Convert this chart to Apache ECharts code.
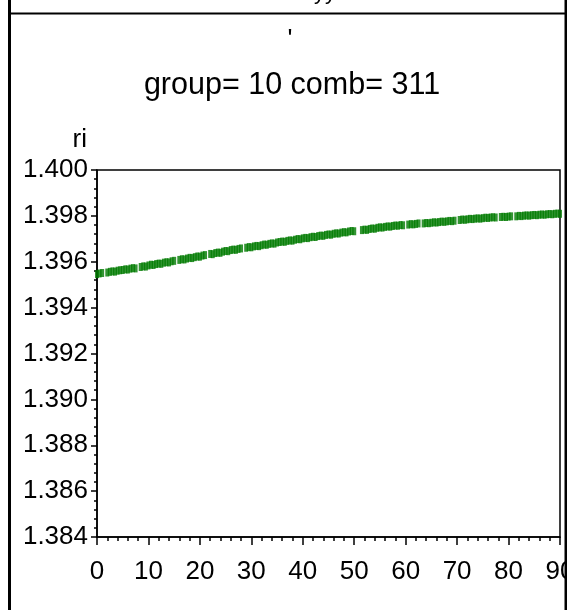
<!DOCTYPE html>
<html>
<head>
<meta charset="utf-8">
<script src="https://cdn.jsdelivr.net/npm/echarts@6/dist/echarts.min.js"></script>
<style>
  html, body { margin: 0; padding: 0; background: #fff; }
  #chart { width: 569px; height: 610px; }
</style>
</head>
<body>
<div id="chart"></div>
<script>
// Measurements of ri along x for group 10, comb 311
const xVals = [
  0, 0.5, 1, 2, 2.5, 3, 3.5, 4, 4.5, 5, 5.5, 6, 6.5, 7, 7.5,
  8.5, 9, 9.5, 10, 10.5, 11, 11.5, 12, 12.5, 13, 13.5, 14, 14.5, 15,
  16, 16.5, 17, 17.5, 18, 18.5, 19, 19.5, 20, 20.5, 21,
  22, 22.5, 23, 23.5, 24, 24.5, 25, 25.5, 26, 26.5, 27, 27.5, 28,
  29, 29.5, 30, 30.5, 31, 31.5, 32, 32.5, 33, 33.5, 34, 34.5,
  35, 35.5, 36, 36.5, 37, 37.5, 38, 38.5, 39, 39.5, 40, 40.5, 41, 41.5, 42, 42.5,
  43, 43.5, 44, 44.5, 45, 45.5, 46, 46.5, 47, 47.5, 48, 48.5, 49, 49.5, 50,
  51.5, 52, 52.5, 53, 53.5, 54, 54.5, 55, 55.5, 56, 56.5, 57, 57.5, 58, 58.5, 59, 59.5,
  60.5, 61, 61.5, 62, 62.5,
  63.5, 64, 64.5, 65, 65.5, 66, 66.5, 67, 67.5, 68, 68.5, 69, 69.5,
  70.5, 71, 71.5, 72, 72.5, 73, 73.5, 74, 74.5, 75, 75.5, 76, 76.5, 77, 77.5,
  78.5, 79, 79.5, 80, 80.5,
  81.5, 82, 82.5, 83, 83.5, 84, 84.5, 85, 85.5, 86, 86.5, 87, 87.5, 88, 88.5, 89, 89.5, 90
];
const riVals = [
  1.39546, 1.39549, 1.39551, 1.39553, 1.39556, 1.39558, 1.39557, 1.39561, 1.39563, 1.39564, 1.39567, 1.39566, 1.39570, 1.39572, 1.39571,
  1.39577, 1.39580, 1.39579, 1.39584, 1.39587, 1.39586, 1.39590, 1.39592, 1.39591, 1.39596, 1.39598, 1.39597, 1.39602, 1.39604,
  1.39608, 1.39611, 1.39610, 1.39614, 1.39617, 1.39616, 1.39620, 1.39623, 1.39622, 1.39627, 1.39629,
  1.39634, 1.39633, 1.39638, 1.39640, 1.39639, 1.39644, 1.39647, 1.39646, 1.39651, 1.39653, 1.39652, 1.39656, 1.39658,
  1.39661, 1.39664, 1.39663, 1.39667, 1.39669, 1.39668, 1.39672, 1.39675, 1.39674, 1.39678, 1.39680, 1.39679,
  1.39684, 1.39686, 1.39688, 1.39687, 1.39691, 1.39693, 1.39692, 1.39696, 1.39699, 1.39698, 1.39702, 1.39704, 1.39703, 1.39707, 1.39709, 1.39708,
  1.39712, 1.39714, 1.39713, 1.39717, 1.39719, 1.39718, 1.39722, 1.39724, 1.39723, 1.39727, 1.39729, 1.39728, 1.39732, 1.39734, 1.39733,
  1.39738, 1.39740, 1.39739, 1.39743, 1.39745, 1.39744, 1.39748, 1.39750, 1.39749, 1.39752, 1.39754, 1.39753, 1.39756, 1.39758, 1.39757, 1.39760, 1.39759,
  1.39762, 1.39764, 1.39763, 1.39765, 1.39767,
  1.39767, 1.39769, 1.39768, 1.39770, 1.39772, 1.39771, 1.39773, 1.39775, 1.39774, 1.39776, 1.39778, 1.39777, 1.39779,
  1.39782, 1.39784, 1.39783, 1.39785, 1.39787, 1.39786, 1.39788, 1.39789, 1.39788, 1.39790, 1.39792, 1.39791, 1.39793, 1.39794, 1.39793,
  1.39795, 1.39796, 1.39795, 1.39797, 1.39798,
  1.39798, 1.39800, 1.39799, 1.39801, 1.39802, 1.39801, 1.39803, 1.39804, 1.39803, 1.39805, 1.39806, 1.39805, 1.39807, 1.39808, 1.39807, 1.39809, 1.39810, 1.39809
];

const xTicks = { min: 0, max: 90, step: 10 };
const yTicks = { min: 1.384, max: 1.400, step: 0.002 };
const panelTitle = 'group= 10 comb= 311';
const yName = 'ri';

const FONT = 'Liberation Sans, Arial, Helvetica, sans-serif';
const points = xVals.map((x, i) => [x, riVals[i]]);

const chart = echarts.init(document.getElementById('chart'), null, { renderer: 'canvas' });
chart.setOption({
  animation: false,
  backgroundColor: '#fff',
  grid: {
    left: 97, right: 9, top: 170, bottom: 73,
    containLabel: false,
    outerBoundsMode: 'none',
    show: true, borderColor: '#000', borderWidth: 1.5, backgroundColor: 'transparent'
  },
  xAxis: {
    type: 'value',
    min: xTicks.min, max: xTicks.max, interval: xTicks.step,
    axisLine: { show: true, lineStyle: { color: '#000', width: 1.5 } },
    axisTick: { show: true, inside: false, length: 8, lineStyle: { color: '#000', width: 1.5 } },
    minorTick: { show: true, splitNumber: 5, length: 4, lineStyle: { color: '#000', width: 1.5 } },
    splitLine: { show: false },
    axisLabel: {
      margin: 22, color: '#000', fontFamily: FONT, fontSize: 26,
      showMinLabel: true, showMaxLabel: true
    }
  },
  yAxis: {
    type: 'value',
    min: yTicks.min, max: yTicks.max, interval: yTicks.step,
    name: yName,
    nameLocation: 'end',
    nameGap: 30,
    nameTextStyle: { color: '#000', fontFamily: FONT, fontSize: 26, align: 'right', verticalAlign: 'middle', padding: [0, 10, 0, 0] },
    axisLine: { show: true, lineStyle: { color: '#000', width: 1.5 } },
    axisTick: { show: true, inside: false, length: 6, lineStyle: { color: '#000', width: 1.5 } },
    minorTick: { show: true, splitNumber: 5, length: 3, lineStyle: { color: '#000', width: 1.5 } },
    splitLine: { show: false },
    axisLabel: {
      margin: 9, color: '#000', fontFamily: FONT, fontSize: 26,
      formatter: v => v.toFixed(3)
    }
  },
  series: [{
    type: 'scatter',
    data: points,
    symbol: 'rect',
    symbolSize: [4, 8],
    itemStyle: { color: '#007a00' },
    clip: false
  }],
  graphic: [
    // panel title
    {
      type: 'text', x: 292, y: 70, z: 50,
      style: { text: panelTitle, fill: '#000', font: '30.5px ' + FONT, align: 'center', verticalAlign: 'top' }
    },
    // small mark above the title
    {
      type: 'text', x: 290, y: 27, z: 50,
      style: { text: "'", fill: '#000', font: '26px ' + FONT, align: 'center', verticalAlign: 'top' }
    },
    // tail of the previous panel's heading, cut by the frame
    {
      type: 'text', x: 325, y: 4, z: 50,
      style: { text: 'yy', fill: '#000', font: '22px ' + FONT, align: 'center', verticalAlign: 'bottom' }
    },
    // white margins outside the frame
    { type: 'rect', z: 100, shape: { x: 565, y: 0, width: 4, height: 610 }, style: { fill: '#fff' } },
    { type: 'rect', z: 100, shape: { x: 0, y: 0, width: 8, height: 610 }, style: { fill: '#fff' } },
    // outer frame lines
    { type: 'rect', z: 101, shape: { x: 8, y: 12.5, width: 558, height: 2 }, style: { fill: '#000' } },
    { type: 'rect', z: 101, shape: { x: 8, y: 0, width: 3, height: 610 }, style: { fill: '#000' } },
    { type: 'rect', z: 101, shape: { x: 564.5, y: 0, width: 2.5, height: 610 }, style: { fill: '#000' } }
  ]
});
</script>
</body>
</html>
